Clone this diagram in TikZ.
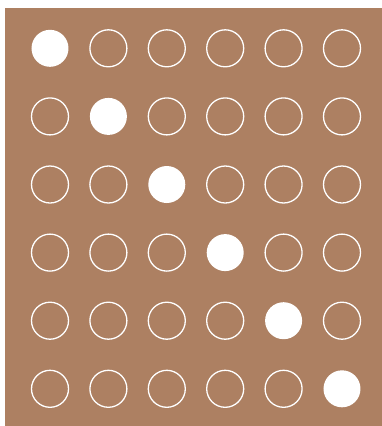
\documentclass[tikz,border=0pt]{standalone}
\usepackage{tikz}
\definecolor{boardbrown}{RGB}{173,128,98}
\begin{document}
\begin{tikzpicture}[x=0.1mm,y=-0.1mm,
  hole/.style={circle,draw=white,line width=0.13mm,minimum size=3.7mm,inner sep=0pt},
  peg/.style={circle,fill=white,minimum size=3.7mm,inner sep=0pt}]
\useasboundingbox (0,0) rectangle (382,426);
\fill[boardbrown] (5,8) rectangle (382,426);
\foreach \i in {0,...,5}
  \foreach \j in {0,...,5} {
    \ifnum\i=\j
      \node[peg] (c-\i-\j) at ({50+58.4*\i},{48.3+68.1*\j}) {};
    \else
      \node[hole] (c-\i-\j) at ({50+58.4*\i},{48.3+68.1*\j}) {};
    \fi
  }
\end{tikzpicture}
\end{document}
